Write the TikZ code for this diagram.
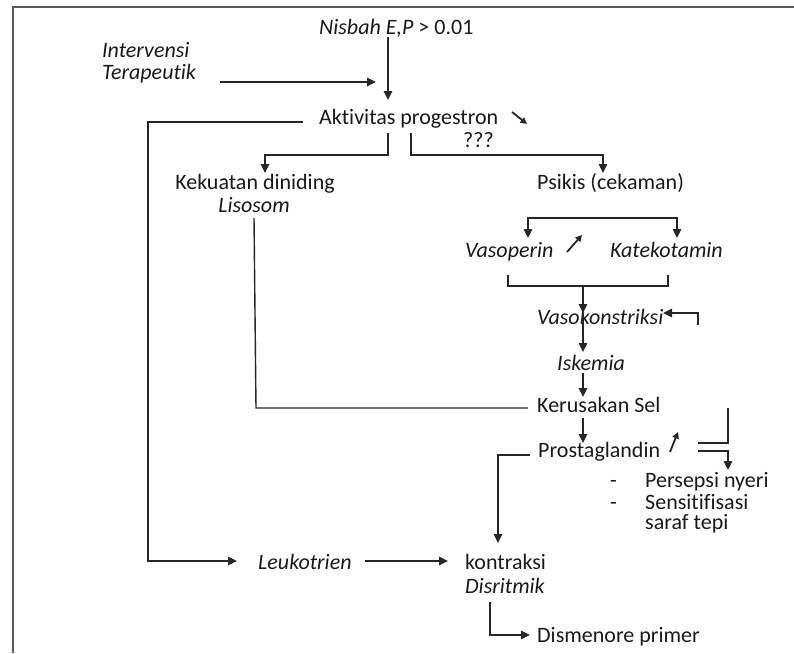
\documentclass[tikz,border=0pt]{standalone}
\usepackage{fontspec}
\setmainfont{Carlito}[Ligatures=NoCommon]
\usetikzlibrary{arrows.meta}
\begin{document}
\begin{tikzpicture}[x=1pt,y=-1pt,
  txt/.style={inner sep=0pt, anchor=base west, font=\fontsize{22}{24}\selectfont, text=black!90},
  txti/.style={txt, font=\fontsize{22}{24}\selectfont\itshape},
  txtc/.style={txt, anchor=base},
  txtic/.style={txti, anchor=base},
  ln/.style={line width=1.4pt, draw=black!85},
  arr/.style={ln, -{Triangle[length=9pt,width=8.5pt]}},
  arrb/.style={ln, {Triangle[length=9pt,width=8.5pt]}-{Triangle[length=9pt,width=8.5pt]}},
  tiny/.style={line width=1.8pt, draw=black!85, -{Triangle[length=6.5pt,width=6.5pt]}},
  frame/.style={line width=2pt, draw=black!65}]

\useasboundingbox (0,0) rectangle (794,653);
\draw[frame] (794,7) -- (13,7) -- (13,653);

% texts
\node[txt] (nisbah) at (319,34) {\textit{Nisbah E,P} > 0.01};
\node[txti] (interv1) at (102,57) {Intervensi};
\node[txti] (interv2) at (102,79) {Terapeutik};
\node[txt] (aktiv) at (319,124) {Aktivitas progestron};
\node[txt] (q) at (463,147) {???};
\node[txtc] (kekuatan) at (255,189) {Kekuatan diniding};
\node[txtic] (lisosom) at (254,212) {Lisosom};
\node[txt] (psikis) at (537,189) {Psikis (cekaman)};
\node[txti] (vaso) at (465,257) {Vasoperin};
\node[txti] (kate) at (610,257) {Katekotamin};
\node[txti] (vk) at (537,324) {Vasokonstriksi};
\node[txti] (isk) at (557,370) {Iskemia};
\node[txt] (kerus) at (537,412) {Kerusakan Sel};
\node[txt] (prosta) at (538,457) {Prostaglandin};
\node[txt] (d1) at (610,487) {-};
\node[txt] (persepsi) at (645,487) {Persepsi nyeri};
\node[txt] (d2) at (610,509) {-};
\node[txt] (sensi) at (645,509) {Sensitifisasi};
\node[txt] (saraf) at (645,529) {saraf tepi};
\node[txti] (leuko) at (258,569) {Leukotrien};
\node[txt] (kontr) at (465,569) {kontraksi};
\node[txti] (disr) at (465,593) {Disritmik};
\node[txt] (dism) at (537,642) {Dismenore primer};

% coordinates
\coordinate (aTop) at (388,100);
\coordinate (ivA) at (220,82);
\coordinate (ivB) at (376,82);
\coordinate (dnA) at (512,112);
\coordinate (dnB) at (527,124);
\coordinate (lA) at (303,122);
\coordinate (lB) at (148,122);
\coordinate (lC) at (148,561);
\coordinate (lD) at (237,561);
\coordinate (kA) at (388,133);
\coordinate (kB) at (388,155);
\coordinate (kC) at (265,155);
\coordinate (kD) at (265,173);
\coordinate (pA) at (411,133);
\coordinate (pB) at (411,155);
\coordinate (pC) at (603,155);
\coordinate (pD) at (603,173);
\coordinate (bA) at (528,238);
\coordinate (bB) at (528,218);
\coordinate (bC) at (677,218);
\coordinate (bD) at (677,238);
\coordinate (upA) at (567,252);
\coordinate (upB) at (582,235);
\coordinate (cA) at (508,275);
\coordinate (cB) at (508,286);
\coordinate (cM) at (583,286);
\coordinate (cC) at (668,286);
\coordinate (cD) at (668,275);
\coordinate (vkT) at (583,313);
\coordinate (iskT) at (583,352);
\coordinate (fA) at (698,325);
\coordinate (fB) at (698,313);
\coordinate (fC) at (663,313);
\coordinate (iA) at (583,373);
\coordinate (iB) at (583,397);
\coordinate (sA) at (254,218);
\coordinate (sB) at (256,408);
\coordinate (sC) at (528,408);
\coordinate (kpA) at (583,418);
\coordinate (kpB) at (583,443);
\coordinate (up2A) at (670,452);
\coordinate (up2B) at (678,432);
\coordinate (rA) at (698,443);
\coordinate (rB) at (728,443);
\coordinate (rC) at (728,408);
\coordinate (qA) at (698,451);
\coordinate (qB) at (728,451);
\coordinate (qC) at (728,470);
\coordinate (xA) at (530,455);
\coordinate (xB) at (498,455);
\coordinate (xC) at (498,543);
\coordinate (lkA) at (365,561);
\coordinate (lkB) at (448,561);
\coordinate (dA) at (490,602);
\coordinate (dB) at (490,635);
\coordinate (dC) at (530,635);

% connectors
\draw[arr] (nisbah.south -| aTop) -- (aTop);
\draw[arr] (ivA) -- (ivB);
\draw[tiny] (dnA) -- (dnB);
\draw[arr] (lA) -- (lB) -- (lC) -- (lD);
\draw[arr] (kA) -- (kB) -- (kC) -- (kD);
\draw[arr] (pA) -- (pB) -- (pC) -- (pD);
\draw[arrb] (bA) -- (bB) -- (bC) -- (bD);
\draw[tiny] (upA) -- (upB);
\draw[ln] (cA) -- (cB) -- (cC) -- (cD);
\draw[arr] (cM) -- (vkT);
\draw[arr] (vkT) -- (iskT);
\draw[arr] (fA) -- (fB) -- (fC);
\draw[arr] (iA) -- (iB);
\draw[ln] (sA) -- (sB) -- (sC);
\draw[arr] (kpA) -- (kpB);
\draw[tiny] (up2A) -- (up2B);
\draw[ln] (rA) -- (rB) -- (rC);
\draw[arr] (qA) -- (qB) -- (qC);
\draw[arr] (xA) -- (xB) -- (xC);
\draw[arr] (lkA) -- (lkB);
\draw[arr] (dA) -- (dB) -- (dC);
\end{tikzpicture}
\end{document}
